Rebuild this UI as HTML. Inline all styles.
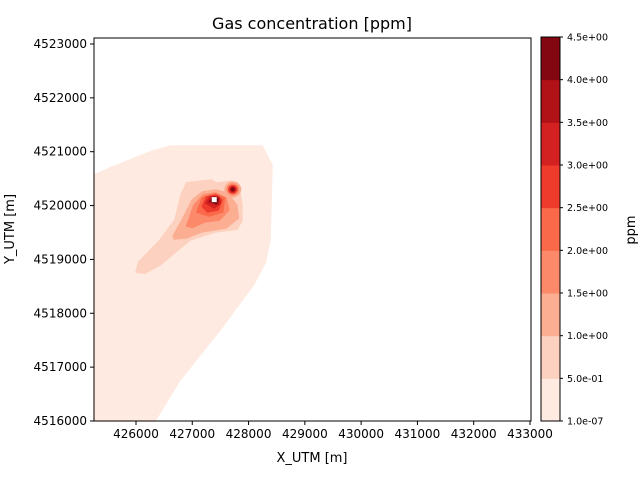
<!DOCTYPE html>
<html><head><meta charset="utf-8"><style>
body{margin:0;background:#fff;font-family:"Liberation Sans","DejaVu Sans",sans-serif}
</style></head><body>
<svg id="c" width="640" height="480" xmlns="http://www.w3.org/2000/svg" font-family="DejaVu Sans, Liberation Sans, sans-serif">
<text x="312" y="29" text-anchor="middle" font-size="16">Gas concentration [ppm]</text>
<g id="plot"></g>
<g id="axes"></g>
<g id="cbar"></g>
<text x="312" y="462" text-anchor="middle" font-size="13">X_UTM [m]</text>
<text transform="translate(14,229) rotate(-90)" text-anchor="middle" font-size="13">Y_UTM [m]</text>
<text transform="translate(635,230) rotate(-90)" text-anchor="middle" font-size="13">ppm</text>
</svg>
<script>
const levels=[1e-7,0.5,1.0,1.5,2.0,2.5,3.0,3.5,4.0,4.5];
const levelLabels=["1.0e-07","5.0e-01","1.0e+00","1.5e+00","2.0e+00","2.5e+00","3.0e+00","3.5e+00","4.0e+00","4.5e+00"];
const colors=["#feeae0","#fdd1bf","#fcae92","#fc8a6a","#fa6a4a","#ef3b2c","#d32020","#b11218","#820710"];
const xTicks=[426000,427000,428000,429000,430000,431000,432000,433000];
const yTicks=[4516000,4517000,4518000,4519000,4520000,4521000,4522000,4523000];
// contour polygons (UTM) per level index
const contour0=[[425254,4520568],[425538,4520700],[425894,4520846],[426249,4520995],[426427,4521050],[426604,4521106],[428239,4521106],[428416,4520754],[428381,4519361],[428300,4518950],[428100,4518550],[427493,4517690],[426782,4516761],[426338,4516000],[425254,4516000]];
const contour1=[[426000,4518767],[426050,4518952],[426427,4519361],[426693,4519732],[426800,4520196],[426900,4520420],[427137,4520450],[427351,4520475],[427420,4520419],[427581,4520438],[427700,4520450],[427830,4520330],[427883,4520011],[427883,4519720],[427794,4519560],[427404,4519509],[426960,4519361],[426427,4518897],[426160,4518740]];
const contour2=[[426660,4519435],[426820,4519732],[427000,4520104],[427180,4520252],[427420,4520289],[427620,4520234],[427790,4520011],[427820,4519769],[427600,4519584],[427160,4519509],[426900,4519400],[426680,4519380]];
const contour3=[[426900,4519620],[427030,4520011],[427200,4520196],[427420,4520234],[427600,4520141],[427650,4519918],[427480,4519732],[427220,4519695],[427000,4519590]];
const contour4=[[427080,4519880],[427180,4520141],[427400,4520215],[427570,4520141],[427540,4519881],[427300,4519806]];
const contour5=[[427180,4519980],[427250,4520159],[427430,4520196],[427530,4520104],[427460,4519918],[427270,4519881]];
const contour6=[[427240,4520048],[427310,4520159],[427470,4520159],[427500,4520048],[427390,4519955]];
const contour7=[[427290,4520066],[427360,4520159],[427470,4520141],[427460,4520029]];
const contour8=[[427330,4520085],[427390,4520159],[427460,4520122],[427420,4520029]];
const contours=[contour0,contour1,contour2,contour3,contour4,contour5,contour6,contour7,contour8];
const peak2=[427720,4520300];
const peak2Radii=[150,115,85,60,40];
const peak2Levels=[2,3,5,6,8];
const hole=[427390,4520110];

const NS='http://www.w3.org/2000/svg';
const L=94,R=531,T=38,B=421,X0=425254,X1=433018,Y0=4516000,Y1=4523111;
const sx=v=>L+(v-X0)/(X1-X0)*(R-L);
const sy=v=>B-(v-Y0)/(Y1-Y0)*(B-T);
function mk(tag,attrs,parent){const e=document.createElementNS(NS,tag);for(const k in attrs)e.setAttribute(k,attrs[k]);parent.appendChild(e);return e;}
const plot=document.getElementById('plot'),axes=document.getElementById('axes'),cbar=document.getElementById('cbar');
contours.forEach((poly,i)=>{
  const p=mk('polygon',{points:poly.map(q=>sx(q[0]).toFixed(1)+','+sy(q[1]).toFixed(1)).join(' '),fill:colors[i],'stroke':colors[i],'stroke-width':1.5,'stroke-linejoin':'round'},plot);
  
  
});
peak2Radii.forEach((r,i)=>{
  const c=mk('ellipse',{cx:sx(peak2[0]),cy:sy(peak2[1]),rx:r/(X1-X0)*(R-L),ry:r/(Y1-Y0)*(B-T),fill:colors[peak2Levels[i]]},plot);
  
  
});
const h=mk('rect',{x:sx(hole[0])-2.5,y:sy(hole[1])-2.5,width:5,height:5,fill:'#fff'},plot);


mk('rect',{x:L,y:T,width:R-L,height:B-T,fill:'none',stroke:'#000','stroke-width':1},axes);
xTicks.forEach(v=>{const x=sx(v);mk('line',{x1:x,x2:x,y1:B,y2:B+4,stroke:'#000'},axes);
  const t=mk('text',{x:x,y:B+17,'text-anchor':'middle','font-size':12},axes);t.textContent=v;
  
  });
yTicks.forEach(v=>{const y=sy(v);mk('line',{x1:L-4,x2:L,y1:y,y2:y,stroke:'#000'},axes);
  const t=mk('text',{x:L-7,y:y+4,'text-anchor':'end','font-size':12},axes);t.textContent=v;
  
  });
const CL=541,CR=560,CT=37,CB=421;
const cy=v=>CB-(v-levels[0])/(levels[levels.length-1]-levels[0])*(CB-CT);
colors.forEach((c,i)=>{const r=mk('rect',{x:CL,y:cy(levels[i+1]),width:CR-CL,height:cy(levels[i])-cy(levels[i+1])+0.5,fill:c},cbar);
  
  });
mk('rect',{x:CL,y:CT,width:CR-CL,height:CB-CT,fill:'none',stroke:'#000'},cbar);
levels.forEach((v,i)=>{const y=cy(v);mk('line',{x1:CR,x2:CR+3,y1:y,y2:y,stroke:'#000'},cbar);
  const t=mk('text',{x:CR+7,y:y+3.5,'font-size':9.5},cbar);t.textContent=levelLabels[i];
  
  });
</script>
</body></html>
